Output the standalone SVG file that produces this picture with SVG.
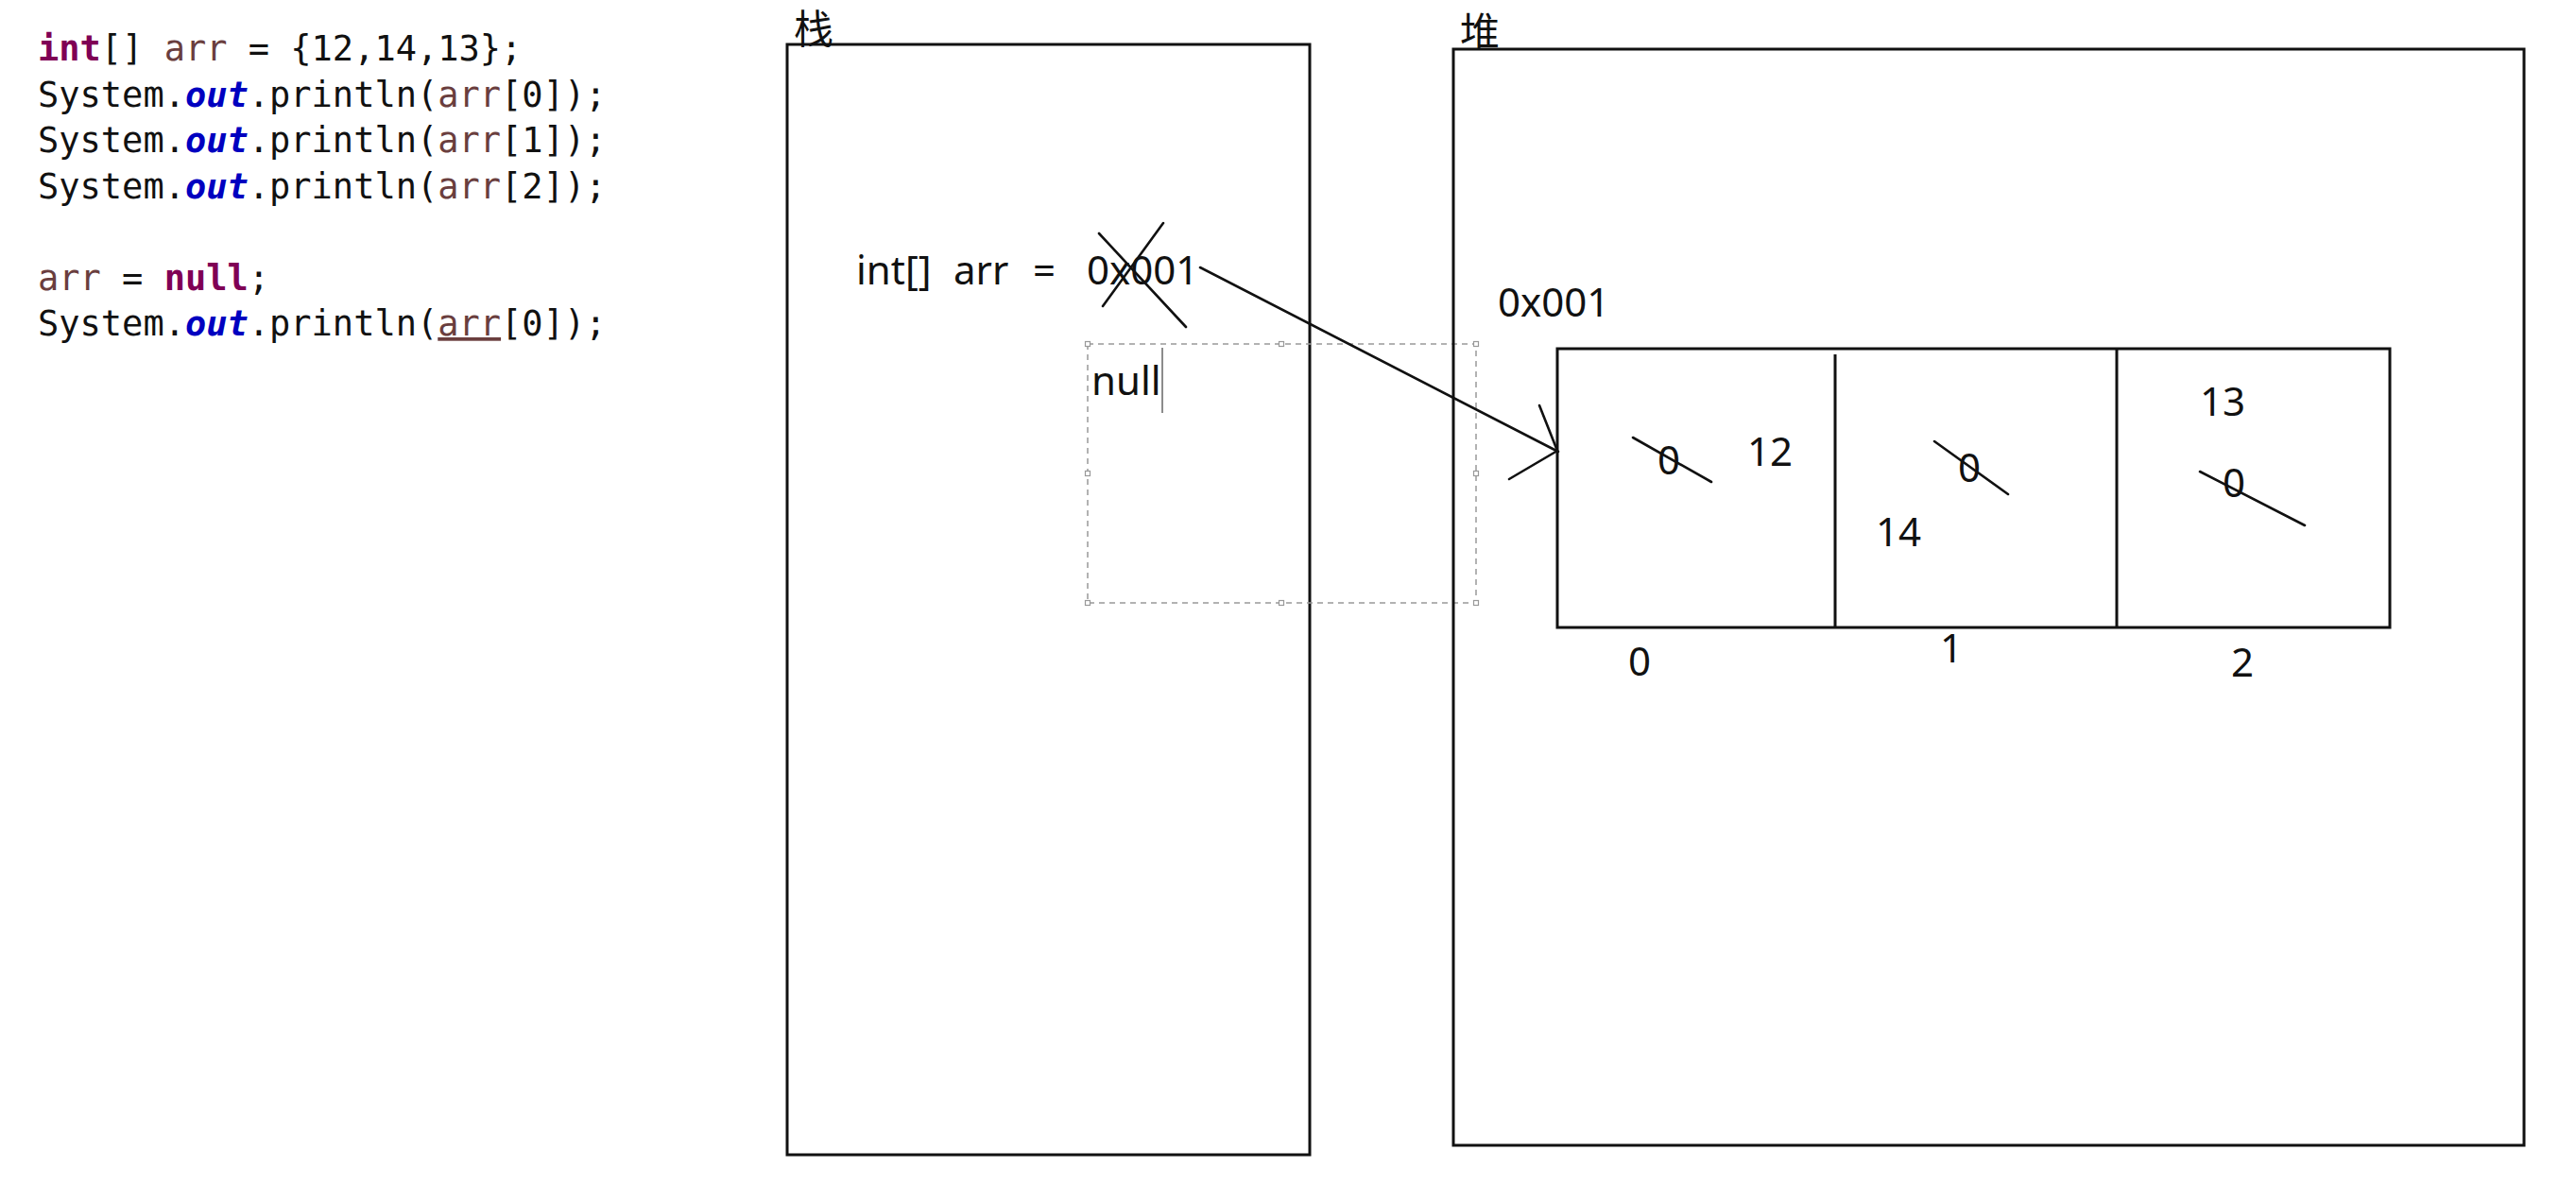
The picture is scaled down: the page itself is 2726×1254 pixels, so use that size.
<svg xmlns="http://www.w3.org/2000/svg" width="2726" height="1254" viewBox="0 0 2726 1254">
<style>
.code{font-family:"DejaVu Sans Mono","Liberation Mono",monospace;font-size:37px;fill:#111}
.kw{fill:#7f0055;font-weight:bold}
.out{fill:#0000c0;font-weight:bold;font-style:italic}
.var{fill:#6a3e3e}
.lbl{font-family:"Noto Sans","Liberation Sans",Arial,sans-serif;font-size:42px;fill:#111}
.cjk{font-family:"Noto Sans CJK SC","Noto Sans CJK JP",sans-serif;font-size:42px;fill:#111}
.box{fill:none;stroke:#111;stroke-width:3}
.ln{fill:none;stroke:#111;stroke-width:2.6;stroke-linecap:round}
.dash{fill:none;stroke:#999;stroke-width:1.5;stroke-dasharray:6 5}
.hd{fill:#fff;stroke:#999;stroke-width:1.2}
</style>
<rect width="2726" height="1254" fill="#fff"/>
<g id="code" class="code">
<text x="40" y="64"><tspan class="kw">int</tspan>[] <tspan class="var">arr</tspan> = {12,14,13};</text>
<text x="40" y="113">System.<tspan class="out">out</tspan>.println(<tspan class="var">arr</tspan>[0]);</text>
<text x="40" y="161">System.<tspan class="out">out</tspan>.println(<tspan class="var">arr</tspan>[1]);</text>
<text x="40" y="210">System.<tspan class="out">out</tspan>.println(<tspan class="var">arr</tspan>[2]);</text>
<text x="40" y="307"><tspan class="var">arr</tspan> = <tspan class="kw">null</tspan>;</text>
<text x="40" y="355">System.<tspan class="out">out</tspan>.println(<tspan class="var" text-decoration="underline">arr</tspan>[0]);</text>
</g>
<g id="stack">
<text class="cjk" x="840" y="46">栈</text>
<rect class="box" x="833" y="47" width="553" height="1175"/>
<text class="lbl" x="906" y="301">int[]</text>
<text class="lbl" x="1009" y="301">arr</text>
<text class="lbl" x="1093" y="301">=</text>
<text class="lbl" x="1150" y="301">0x001</text>
<line class="ln" x1="1163" y1="247" x2="1255" y2="346"/>
<line class="ln" x1="1231" y1="236" x2="1167" y2="324"/>
</g>
<g id="null-box">
<rect class="dash" x="1151" y="364" width="411" height="274"/>
<rect class="hd" x="1148.5" y="361.5" width="5" height="5"/>
<rect class="hd" x="1353.5" y="361.5" width="5" height="5"/>
<rect class="hd" x="1559.5" y="361.5" width="5" height="5"/>
<rect class="hd" x="1148.5" y="498.5" width="5" height="5"/>
<rect class="hd" x="1559.5" y="498.5" width="5" height="5"/>
<rect class="hd" x="1148.5" y="635.5" width="5" height="5"/>
<rect class="hd" x="1353.5" y="635.5" width="5" height="5"/>
<rect class="hd" x="1559.5" y="635.5" width="5" height="5"/>
<text class="lbl" x="1155" y="418">null</text>
<line x1="1230" y1="368" x2="1230" y2="437" stroke="#666" stroke-width="1.5"/>
</g>
<g id="heap">
<text class="cjk" x="1545" y="49">堆</text>
<rect class="box" x="1538" y="52" width="1133" height="1160"/>
<text class="lbl" x="1585" y="335">0x001</text>
</g>
<g id="array">
<rect class="box" x="1648" y="369" width="881" height="295"/>
<line class="box" x1="1942" y1="375" x2="1942" y2="664"/>
<line class="box" x1="2240" y1="369" x2="2240" y2="664"/>
<text class="lbl" x="1754" y="502">0</text>
<line class="ln" x1="1728" y1="463" x2="1811" y2="510"/>
<text class="lbl" x="1849" y="493">12</text>
<text class="lbl" x="2072" y="510">0</text>
<line class="ln" x1="2047" y1="467" x2="2125" y2="523"/>
<text class="lbl" x="1985" y="578">14</text>
<text class="lbl" x="2328" y="440">13</text>
<text class="lbl" x="2352" y="526">0</text>
<line class="ln" x1="2328" y1="499" x2="2439" y2="556"/>
<text class="lbl" x="1723" y="715">0</text>
<text class="lbl" x="2053" y="701">1</text>
<text class="lbl" x="2361" y="716">2</text>
</g>
<g id="connectors">
<line class="ln" x1="1270" y1="283" x2="1649" y2="478" stroke-width="3"/>
<polyline class="ln" points="1629,429 1648,477 1597,507" stroke-width="3"/>
</g>
</svg>
